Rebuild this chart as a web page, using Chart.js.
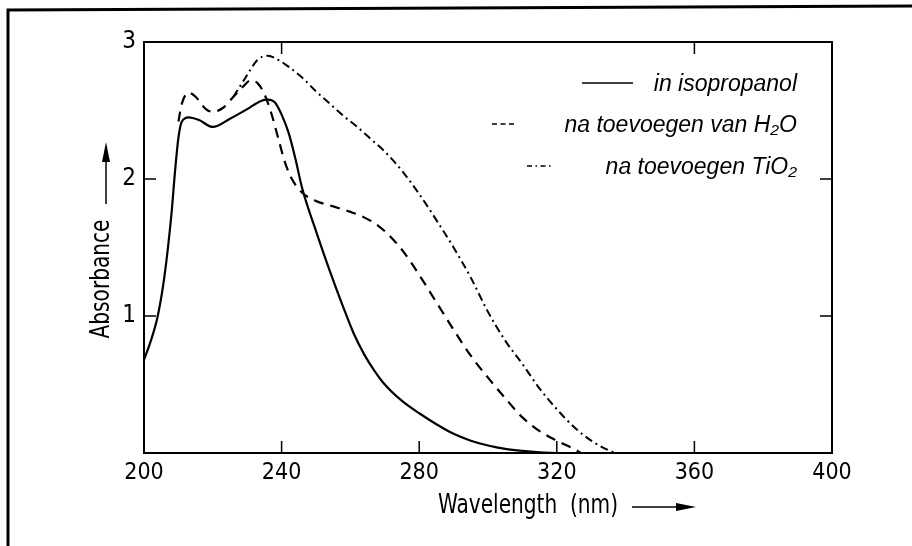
<!DOCTYPE html>
<html>
<head>
<meta charset="utf-8">
<title>Absorbance</title>
<script src="https://cdn.jsdelivr.net/npm/chart.js@4/dist/chart.umd.min.js"></script>
<style>
  html, body { margin: 0; padding: 0; background: #fff; }
  #wrap { width: 912px; height: 546px; }
</style>
</head>
<body>
<div id="wrap"><canvas id="spectrum" width="912" height="546"></canvas></div>
<script>
// values (wavelength in nm, absorbance)
const isoWave = [200, 202, 204, 206, 208, 209, 210, 211, 213, 216, 220, 225, 230, 234, 236, 238, 240, 242, 244, 246, 250, 254, 258, 261, 264, 267, 270, 275, 280, 285, 290, 295, 300, 305, 310, 315, 320];
const isoAbs = [0.68, 0.82, 1.0, 1.3, 1.75, 2.05, 2.3, 2.42, 2.45, 2.43, 2.38, 2.44, 2.51, 2.57, 2.58, 2.56, 2.47, 2.34, 2.15, 1.93, 1.62, 1.33, 1.06, 0.87, 0.72, 0.60, 0.50, 0.38, 0.29, 0.21, 0.14, 0.09, 0.055, 0.03, 0.015, 0.005, 0];

const waterWave = [210, 211, 213, 215, 218, 220, 223, 226, 229, 231, 233, 235, 237, 239, 241, 243, 246, 250, 255, 260, 264, 268, 272, 276, 280, 285, 290, 295, 300, 305, 310, 315, 320, 325, 327];
const waterAbs = [2.42, 2.55, 2.63, 2.60, 2.51, 2.49, 2.52, 2.60, 2.68, 2.72, 2.70, 2.62, 2.48, 2.30, 2.12, 2.00, 1.90, 1.84, 1.80, 1.76, 1.72, 1.66, 1.57, 1.45, 1.30, 1.10, 0.90, 0.71, 0.55, 0.40, 0.26, 0.16, 0.09, 0.03, 0];

const tioWave = [226, 227, 229, 231, 233, 236, 239, 242, 246, 250, 254, 258, 262, 266, 270, 275, 280, 285, 290, 295, 300, 305, 310, 315, 320, 325, 330, 335, 337];
const tioAbs = [2.60, 2.64, 2.72, 2.80, 2.87, 2.90, 2.87, 2.82, 2.74, 2.64, 2.55, 2.46, 2.38, 2.29, 2.20, 2.06, 1.89, 1.70, 1.50, 1.28, 1.03, 0.82, 0.65, 0.47, 0.32, 0.19, 0.09, 0.02, 0];

const seriesLabels = ['in isopropanol', 'na toevoegen van H₂O', 'na toevoegen TiO₂'];
const xTicks = [200, 240, 280, 320, 360, 400];
const yTicks = [1, 2, 3];

const FONT = "'DejaVu Sans Condensed', 'DejaVu Sans', sans-serif";
const ITALIC = "italic 23px 'Liberation Sans', Arial, sans-serif";

function toPoints(xs, ys) {
    return xs.map((x, i) => ({ x: x, y: ys[i] }));
}

// narrow stencil-like lettering: squeeze the condensed face a bit more
function narrowText(ctx, text, x, y, angle) {
    ctx.save();
    ctx.translate(x, y);
    if (angle) ctx.rotate(angle);
    ctx.scale(0.86, 1);
    ctx.fillText(text, 0, 0);
    ctx.restore();
}

// frame, inward ticks, axis titles with arrows and the legend
const paperPlugin = {
    id: 'paper',
    afterDraw(chart) {
        const ctx = chart.ctx;
        const area = chart.chartArea;
        const xs = chart.scales.x;
        const ys = chart.scales.y;
        ctx.save();
        ctx.strokeStyle = '#000';
        ctx.fillStyle = '#000';

        // outer frame of the scanned page
        ctx.lineWidth = 3;
        ctx.beginPath();
        ctx.moveTo(8, 546);
        ctx.lineTo(8, 10);
        ctx.lineTo(912, 6);
        ctx.stroke();

        // plot box
        ctx.lineWidth = 2;
        ctx.strokeRect(area.left, area.top, area.right - area.left, area.bottom - area.top);

        // ticks point into the box
        ctx.lineWidth = 1.5;
        ctx.beginPath();
        [240, 280, 320, 360].forEach(v => {
            const px = xs.getPixelForValue(v);
            ctx.moveTo(px, area.bottom);
            ctx.lineTo(px, area.bottom - 12);
        });
        [240, 360].forEach(v => {
            const px = xs.getPixelForValue(v);
            ctx.moveTo(px, area.top);
            ctx.lineTo(px, area.top + 12);
        });
        [1, 2].forEach(v => {
            const py = ys.getPixelForValue(v);
            ctx.moveTo(area.left, py);
            ctx.lineTo(area.left + 12, py);
            ctx.moveTo(area.right, py);
            ctx.lineTo(area.right - 12, py);
        });
        ctx.stroke();

        // x title with arrow
        ctx.font = '26px ' + FONT;
        ctx.textAlign = 'left';
        ctx.textBaseline = 'middle';
        narrowText(ctx, 'Wavelength  (nm)', 438, 506);
        ctx.lineWidth = 1.5;
        ctx.beginPath();
        ctx.moveTo(632, 507);
        ctx.lineTo(680, 507);
        ctx.stroke();
        ctx.beginPath();
        ctx.moveTo(696, 507);
        ctx.lineTo(676, 503);
        ctx.lineTo(676, 511);
        ctx.closePath();
        ctx.fill();

        // y title with arrow
        ctx.textAlign = 'center';
        narrowText(ctx, 'Absorbance', 102, 279, -Math.PI / 2);
        ctx.beginPath();
        ctx.moveTo(106, 204);
        ctx.lineTo(106, 158);
        ctx.stroke();
        ctx.beginPath();
        ctx.moveTo(106, 142);
        ctx.lineTo(102, 162);
        ctx.lineTo(110, 162);
        ctx.closePath();
        ctx.fill();

        // legend, text right aligned
        const rows = [
            { y: 85, x0: 582, x1: 633, dash: [] },
            { y: 126, x0: 492, x1: 514, dash: [5, 3.5] },
            { y: 168, x0: 527, x1: 553, dash: [5, 3.5, 1.5, 3.5] }
        ];
        ctx.font = ITALIC;
        ctx.textAlign = 'right';
        chart.data.datasets.forEach((ds, i) => {
            const r = rows[i];
            ctx.fillText(ds.label, 797, r.y);
            ctx.save();
            ctx.lineWidth = 1.5;
            ctx.setLineDash(r.dash);
            ctx.beginPath();
            ctx.moveTo(r.x0, r.y - 2);
            ctx.lineTo(r.x1, r.y - 2);
            ctx.stroke();
            ctx.restore();
        });
        ctx.restore();
    }
};

const ctx = document.getElementById('spectrum').getContext('2d');
const chart = new Chart(ctx, {
    type: 'line',
    data: {
        datasets: [
            {
                label: seriesLabels[0],
                data: toPoints(isoWave, isoAbs),
                borderColor: '#000',
                borderWidth: 2.2
            },
            {
                label: seriesLabels[1],
                data: toPoints(waterWave, waterAbs),
                borderColor: '#000',
                borderWidth: 2.2,
                borderDash: [10, 7]
            },
            {
                label: seriesLabels[2],
                data: toPoints(tioWave, tioAbs),
                borderColor: '#000',
                borderWidth: 2,
                borderDash: [8, 4, 2, 4]
            }
        ]
    },
    options: {
        responsive: false,
        animation: false,
        layout: { padding: { left: 0, top: 42, right: 80, bottom: 0 } },
        elements: {
            point: { radius: 0 },
            line: { tension: 0.4, cubicInterpolationMode: 'monotone', fill: false }
        },
        plugins: {
            legend: { display: false },
            tooltip: { enabled: false }
        },
        scales: {
            x: {
                type: 'linear',
                min: 200,
                max: 400,
                afterFit(scale) { scale.height = 93; },
                afterBuildTicks(scale) { scale.ticks = xTicks.map(v => ({ value: v })); },
                grid: { display: false, drawTicks: false },
                border: { display: false },
                ticks: { color: '#000', padding: 6, font: { family: FONT, size: 23 }, maxRotation: 0, autoSkip: false }
            },
            y: {
                min: 0,
                max: 3,
                afterFit(scale) { scale.width = 144; },
                afterBuildTicks(scale) { scale.ticks = yTicks.map(v => ({ value: v })); },
                grid: { display: false, drawTicks: false },
                border: { display: false },
                ticks: { color: '#000', padding: 8, font: { family: FONT, size: 24 } }
            }
        }
    },
    plugins: [paperPlugin]
});
</script>
</body>
</html>
